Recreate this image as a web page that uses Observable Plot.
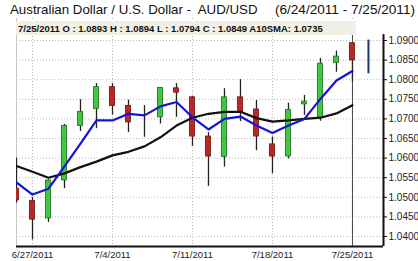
<!DOCTYPE html>
<html><head><meta charset="utf-8">
<script src="https://cdn.jsdelivr.net/npm/d3@7"></script>
<script src="https://cdn.jsdelivr.net/npm/@observablehq/plot@0.6"></script>
<style>
body{margin:0;background:#fff;width:418px;height:261px;overflow:hidden;position:relative;font-family:"Liberation Sans",Arial,sans-serif;}
#title{position:absolute;left:10px;top:1px;font-size:13.3px;color:#111;white-space:pre;line-height:17px;}
#range{position:absolute;right:3px;top:1px;font-size:13.6px;color:#111;white-space:pre;line-height:17px;}
#info{position:absolute;left:16px;top:21px;width:338px;height:14px;background:#f2f0e4;font-size:9.5px;font-weight:bold;line-height:15px;padding-left:2px;color:#111;white-space:pre;z-index:2;overflow:hidden;}
#chart{position:absolute;left:0;top:18px;z-index:1;}
</style></head><body>
<div id="title"></div><div id="range"></div>
<div id="chart"></div>
<div id="info"></div>
<script>
// ---- data ----
const titleText = "Australian Dollar / U.S. Dollar -  AUD/USD";
const rangeText = "(6/24/2011 - 7/25/2011)";
const infoText = "7/25/2011 O : 1.0893 H : 1.0894 L : 1.0794 C : 1.0849 A10SMA: 1.0735";
const days = ["6/24","6/27","6/28","6/29","6/30","7/1","7/4","7/5","7/6","7/7","7/8","7/11","7/12","7/13","7/14","7/15","7/18","7/19","7/20","7/21","7/22","7/25"];
const open  = [1.0522,1.0491,1.0446,1.0543,1.0682,1.0725,1.0781,1.0733,1.0709,1.0704,1.0778,1.0755,1.0655,1.0603,1.0755,1.0724,1.0635,1.0604,1.0737,1.0702,1.0843,1.0893];
const high  = [1.0600,1.0500,1.0545,1.0686,1.0749,1.0790,1.0790,1.0748,1.0734,1.0780,1.0790,1.0758,1.0665,1.0777,1.0800,1.0747,1.0654,1.0740,1.0760,1.0854,1.0873,1.0894];
const low   = [1.0485,1.0391,1.0436,1.0522,1.0668,1.0675,1.0710,1.0665,1.0653,1.0687,1.0704,1.0630,1.0528,1.0577,1.0693,1.0619,1.0560,1.0598,1.0709,1.0694,1.0819,1.0794];
const close = [1.0492,1.0443,1.0543,1.0682,1.0718,1.0781,1.0733,1.0691,1.0709,1.0779,1.0767,1.0655,1.0604,1.0755,1.0718,1.0655,1.0604,1.0723,1.0744,1.0841,1.0859,1.0849];
const fastAvg = [1.0538,1.0507,1.0522,1.0579,1.0637,1.0696,1.0696,1.0713,1.0709,1.0732,1.0743,1.0704,1.0673,1.0700,1.0706,1.0683,1.0664,1.0683,1.0700,1.0751,1.0798,1.0822];
const sma10   = [1.0580,1.0565,1.0550,1.0561,1.0577,1.0591,1.0607,1.0616,1.0630,1.0653,1.0683,1.0703,1.0713,1.0718,1.0718,1.0702,1.0693,1.0696,1.0700,1.0703,1.0714,1.0735];
const pendingBar = [{day: 22, low: 1.0815, high: 1.0901}];
const weekTicks = [1, 6, 11, 16, 21];
const weekLabels = ["6/27/2011","7/4/2011","7/11/2011","7/18/2011","7/25/2011"];
const yTicks = [1.040,1.045,1.050,1.055,1.060,1.065,1.070,1.075,1.080,1.085,1.090];
const cursorDay = 21;

// ---- build ----
document.getElementById("title").textContent = titleText;
document.getElementById("range").textContent = rangeText;
document.getElementById("info").textContent = infoText;

const rows = days.map((d, i) => ({i, o: open[i], h: high[i], l: low[i], c: close[i], dir: Math.sign(Math.round((close[i] - open[i]) * 1e5))}));
const lineRows = days.map((d, i) => ({i, fast: fastAvg[i], slow: sma10[i]}));
const fillFor = {1: "#3dc83d", "-1": "#c02626", 0: "#222"};
const strokeFor = {1: "#226b22", "-1": "#6d1515", 0: "#222"};
const xMax = 22.94, yMin = 1.03745, yMax = 1.09561;
const halfBody = 0.16;

const chart = Plot.plot({
  width: 418, height: 243,
  marginLeft: 16, marginRight: 35, marginTop: 0, marginBottom: 15,
  x: {type: "linear", domain: [0, xMax]},
  y: {domain: [yMin, yMax]},
  style: {fontFamily: "'Liberation Sans', Arial, sans-serif", fontSize: "10px", color: "#222", background: "transparent", overflow: "visible"},
  marks: [
    Plot.gridY(yTicks, {stroke: "#b8b8b8", strokeOpacity: 1, strokeDasharray: "1,2"}),
    Plot.gridX(weekTicks, {stroke: "#b8b8b8", strokeOpacity: 1, strokeDasharray: "1,2"}),
    Plot.ruleX([0], {stroke: "#c4c4c4"}),
    Plot.ruleX([cursorDay], {y1: yMin, y2: 1.0915, stroke: "#444", strokeWidth: 1}),
    Plot.ruleX(rows, {x: "i", y1: "l", y2: "h", stroke: "#222", strokeWidth: 1.3, clip: true}),
    Plot.rect(rows, {x1: d => d.i - halfBody, x2: d => d.i + halfBody, y1: "o", y2: "c",
      fill: d => fillFor[d.dir], stroke: d => strokeFor[d.dir], strokeWidth: 0.8, clip: true}),
    Plot.line(lineRows, {x: "i", y: "slow", stroke: "#111", strokeWidth: 2.2, clip: true}),
    Plot.line(lineRows, {x: "i", y: "fast", stroke: "#1414d8", strokeWidth: 2.2, clip: true}),
    Plot.ruleX(pendingBar, {x: "day", y1: "low", y2: "high", stroke: "#1f3a66", strokeWidth: 2}),
    Plot.axisY(yTicks, {anchor: "right", tickFormat: d => d.toFixed(4), tickSize: 3, tickPadding: 2, fontSize: 10, stroke: "#111"}),
    Plot.axisX(weekTicks, {anchor: "bottom", tickSize: 0, tickPadding: 5, fontSize: 9.5, tickFormat: d => weekLabels[weekTicks.indexOf(d)]}),
    Plot.ruleY([yMin], {x1: 0, x2: xMax, stroke: "#111", strokeWidth: 2}),
    Plot.ruleX([xMax], {y1: yMin, y2: 1.0915, stroke: "#111", strokeWidth: 2})
  ]
});
document.getElementById("chart").appendChild(chart);
</script>
</body></html>
